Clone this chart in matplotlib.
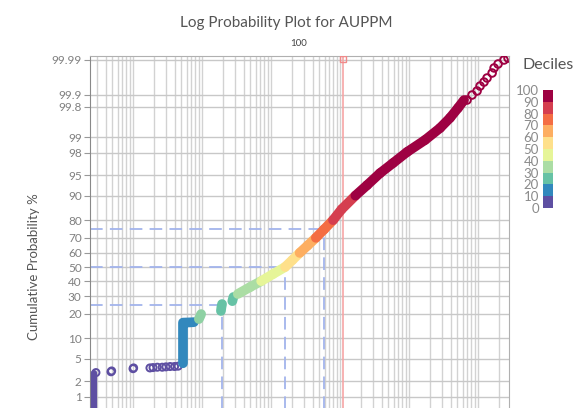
import numpy as np
import matplotlib
matplotlib.use('Agg')
import matplotlib.pyplot as plt
from matplotlib.colors import ListedColormap, BoundaryNorm
from matplotlib.ticker import LogLocator, NullFormatter
from statistics import NormalDist

plt.rcParams['font.family'] = ['Lato', 'DejaVu Sans']

# probability axis ticks (cumulative %); those below 1 % fall outside the cropped picture
pct_ticks = [0.01, 0.1, 0.2, 0.5, 1, 2, 5, 10, 20, 30, 40, 50, 60, 70, 80, 90, 95, 98, 99, 99.8, 99.9, 99.99]
pct_labels = ['', '', '', '', '1', '2', '5', '10', '20', '30', '40', '50', '60', '70', '80', '90',
              '95', '98', '99', '99.8', '99.9', '99.99']

decile_colors = ['#5e4fa2', '#3288bd', '#66c2a5', '#abdda4', '#e6f598',
                 '#fee08b', '#fdae61', '#f46d43', '#d53e4f', '#9e0142']
decile_ticks = [0, 10, 20, 30, 40, 50, 60, 70, 80, 90, 100]

# detection-limit column at the far left
low_val = [0.27, 0.27]
low_pct = [0.01, 2.9]

# sparse low values (open circles)
sparse_val = [0.29, 0.48, 0.49, 1.0, 1.02, 1.76, 1.95, 2.25, 2.65, 3.0, 3.45, 4.0, 4.5]
sparse_pct = [2.9, 3.0, 3.1, 3.4, 3.5, 3.5, 3.55, 3.6, 3.6, 3.65, 3.7, 3.7, 3.75]

# blue step
blue_val = [5.3, 5.3, 6.6, 7.6]
blue_pct = [4.2, 15.9, 16.0, 16.1]

# small clusters
c1_val = [9.0, 9.4, 9.7]
c1_pct = [17.5, 18.8, 19.9]
c2_val = [18.8, 19.1, 19.5]
c2_pct = [21.5, 23.5, 25.3]
c3_val = [27.5, 28.0, 28.5]
c3_pct = [27.0, 28.3, 29.5]

# main body of the distribution
main_val = [33, 50, 72, 107, 160, 204, 260, 339, 446, 586, 792, 1055, 1670, 2460, 3800,
            5860, 9350, 17060, 28130, 39300, 51300, 62700]
main_pct = [31.4, 36.0, 40.0, 45.0, 50.0, 55.0, 60.0, 65.0, 70.0, 75.0, 80.0, 85.0, 90.0, 92.9, 95.4,
            96.9, 98.05, 98.87, 99.37, 99.63, 99.785, 99.864]

# upper tail (open circles)
top_val = [69300, 81900, 96800, 107000, 122000, 135000, 160000, 171000, 195000, 238000, 272000]
top_pct = [99.864, 99.899, 99.921, 99.942, 99.955, 99.9654, 99.9752, 99.9824, 99.9866, 99.9899, 99.9912]

# quartiles and reference line
quart_val = [19.5, 160, 586]
quart_pct = [25, 50, 75]
ref_val = 1100

nd = NormalDist()


def z(p):
    return np.array([nd.inv_cdf(v / 100.0) for v in np.atleast_1d(p)])


fig = plt.figure(figsize=(5.73, 4.08), dpi=100)
ax = fig.add_axes([90 / 573, -70 / 408, 419 / 573, 422 / 408])

zmax = 3.788
ax.set_xscale('log')
ax.set_xlim(0.238, 281000)
ax.set_ylim(-zmax, zmax)

# grid
ax.xaxis.set_major_locator(LogLocator(base=10, numticks=20))
ax.xaxis.set_minor_locator(LogLocator(base=10, subs=np.arange(2, 10), numticks=50))
ax.xaxis.set_major_formatter(NullFormatter())
ax.xaxis.set_minor_formatter(NullFormatter())
ax.tick_params(axis='x', which='both', length=0)
ax.grid(True, which='both', axis='x', color='#d2d2d2', lw=1.0)
ax.set_yticks(z(pct_ticks))
ax.set_yticklabels(pct_labels, fontsize=8.5, color='#808080')
ax.tick_params(axis='y', length=4, color='#999999', pad=2)
ax.grid(True, axis='y', color='#c8c8c8', lw=1.0)
ax.set_axisbelow(True)
for s in ax.spines.values():
    s.set_color('#b0b0b0')
ax.spines['left'].set_color('#888888')

# quartile guides
for v, p in zip(quart_val, quart_pct):
    zp = z(p)[0]
    ax.plot([0.238, v], [zp, zp], color='#a3b4ec', lw=1.3, ls=(0, (7, 4)), zorder=2)
    ax.plot([v, v], [-zmax, zp], color='#a3b4ec', lw=1.3, ls=(0, (7, 4)), zorder=2)

ax.axvline(ref_val, color='#f6a5a5', lw=1.2, zorder=2)
ax.plot([ref_val], [zmax - 0.06], marker='s', ms=4, mfc='none', mec='#f08a8a', mew=1, zorder=3)

# data
ax.plot(low_val, z(low_pct), color=decile_colors[0], lw=4.5, solid_capstyle='round', zorder=4)
ax.scatter(sparse_val, z(sparse_pct), s=26, facecolors='none', edgecolors=decile_colors[0], lw=1.4, zorder=4)
ax.plot(blue_val, z(blue_pct), color=decile_colors[1], lw=7, solid_capstyle='round',
        solid_joinstyle='round', zorder=4)
ax.plot(c1_val, z(c1_pct), color='#8ed1a3', lw=7, solid_capstyle='round', zorder=4)
ax.plot(c2_val, z(c2_pct), color=decile_colors[2], lw=7, solid_capstyle='round', zorder=4)
ax.plot(c3_val, z(c3_pct), color=decile_colors[2], lw=7, solid_capstyle='round', zorder=4)

mz = z(main_pct)
for i in range(len(main_val) - 1):
    mid = (main_pct[i] + main_pct[i + 1]) / 2
    col = decile_colors[min(int(mid // 10), 9)]
    ax.plot(main_val[i:i + 2], mz[i:i + 2], color=col, lw=7, solid_capstyle='round', zorder=4)

ax.scatter(top_val, z(top_pct), s=30, facecolors='none', edgecolors=decile_colors[9], lw=1.4, zorder=5)

ax.set_ylabel('Cumulative Probability %', fontsize=9.5, color='#555555', labelpad=8)

fig.text(0.5, 0.944, 'Log Probability Plot for AUPPM', ha='center', va='center', fontsize=11, color='#555555')
fig.text(299 / 573, 1 - 44 / 408, '100', ha='center', va='center', fontsize=7, color='#444444')

# deciles colour bar
cax = fig.add_axes([543 / 573, 1 - 208 / 408, 10 / 573, 118 / 408])
cmap = ListedColormap(decile_colors)
norm = BoundaryNorm(decile_ticks, cmap.N)
cb = fig.colorbar(plt.cm.ScalarMappable(norm=norm, cmap=cmap), cax=cax, ticks=decile_ticks)
cb.outline.set_visible(False)
cax.yaxis.set_ticks_position('left')
cax.tick_params(length=0, labelsize=9.5, labelcolor='#8a8a8a', pad=3)
fig.text(523 / 573, 1 - 65 / 408, 'Deciles', ha='left', va='center', fontsize=11.5, color='#555555')

fig.savefig('out.png', dpi=100)
